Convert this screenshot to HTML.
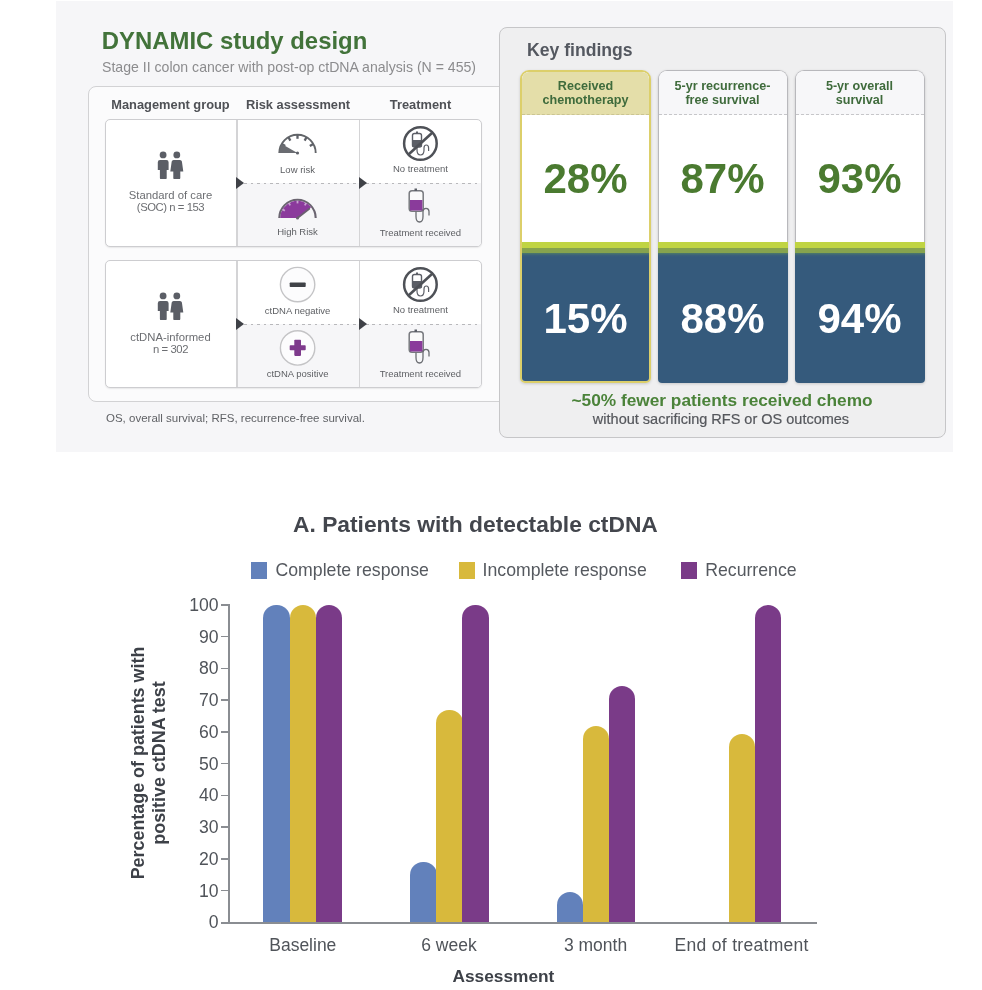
<!DOCTYPE html>
<html><head><meta charset="utf-8">
<style>
*{margin:0;padding:0;box-sizing:border-box}
html,body{width:982px;height:990px;background:#fff;overflow:hidden}
body{position:relative;font-family:"Liberation Sans",sans-serif}
#wrap{position:absolute;left:0;top:0;width:982px;height:990px;background:#fff;filter:blur(0.6px)}
.a{position:absolute}
.t{position:absolute;white-space:nowrap;line-height:1}
.b{font-weight:bold}
.c{transform:translateX(-50%)}
#panel{left:56px;top:1px;width:897px;height:451px;background:#f6f6f8}
#outer{left:88px;top:86px;width:430px;height:316px;border:1.5px solid #d2d2d4;border-radius:8px;background:#fbfbfc}
.inner{left:105px;width:377px;height:128px;border:1.5px solid #cdcdd0;border-radius:5px;background:#fff;overflow:hidden;box-shadow:0 1px 1.5px rgba(0,0,0,.08)}
.inner .lo{position:absolute;left:131px;top:63px;right:0;bottom:0;background:#f6f6f8}
.inner .d1{position:absolute;left:130px;top:0;bottom:0;width:1.6px;background:#d4d4d6}
.inner .d2{position:absolute;left:252.5px;top:0;bottom:0;width:1.6px;background:#d4d4d6}
.inner .dash{position:absolute;left:132px;right:0;top:62.5px;height:1px;background:repeating-linear-gradient(90deg,#b8b8bb 0 2.6px,transparent 2.6px 6.4px)}
.tri{width:0;height:0;border-top:6px solid transparent;border-bottom:6px solid transparent;border-left:8px solid #3f4147}
.sm{font-size:9.5px;color:#5d5f63}
.hd{font-size:12.85px;color:#4f5156}
#kf{left:499px;top:27px;width:447px;height:411px;border:1.5px solid #c6c6c8;border-radius:8px;background:#efeff0}
.card{position:absolute;top:70px;height:313px;border-radius:9px 9px 4px 4px;box-shadow:0 1px 3px rgba(0,0,0,.16)}
.card .top{position:absolute;left:0;right:0;top:0;height:171.7px;border:1.5px solid #b8b8bc;border-bottom:0;border-radius:9px 9px 0 0;background:#fff;overflow:hidden}
.card .h{position:absolute;left:0;right:0;top:0;height:43.9px;background:#f7f7f9;border-bottom:1px dashed #c6c6c9}
.card .band{position:absolute;left:0;right:0;top:171.7px;bottom:0;border-radius:0 0 4px 4px;background:linear-gradient(#c0d443 0,#c0d443 6.3px,#86a34e 6.3px,#86a34e 10.9px,#4d7a6a 10.9px,#3a5f7a 13.5px,#355a7c 15px)}
.card.y{border:2px solid #dccf6a;overflow:hidden;border-radius:9px 9px 5px 5px}
.card.y .top{border:0;height:169.7px;border-radius:0}
.card.y .h{height:43.4px;background:#e4dea9;border-bottom-color:#cbc492}
.card.y .band{top:169.7px;border-radius:0}
.ht{text-align:center;font-weight:bold;font-size:12.6px;line-height:14px;color:#3f6b3c;width:130px}
.n1{text-align:center;font-weight:bold;font-size:42px;line-height:41px;color:#4a7a30;width:130px}
.n2{text-align:center;font-weight:bold;font-size:42px;line-height:41px;color:#fff;width:130px}
.lg{font-size:17.7px;color:#55595f}
.yl{font-size:17.6px;color:#50545a;text-align:right;width:40px}
.xl{font-size:17.5px;color:#50545a}
.bar{width:26.6px;border-radius:13px 13px 0 0}
.bl{background:#6281bb}.ye{background:#d8b93c}.pu{background:#7a3b88}
</style></head><body>
<div id="wrap">
<div id="panel" class="a"></div>
<!-- title -->
<div class="t b" style="left:101.8px;top:29px;font-size:23.9px;color:#42733a">DYNAMIC study design</div>
<div class="t" style="left:102px;top:60px;font-size:14.1px;color:#8c8c8e">Stage II colon cancer with post-op ctDNA analysis (N = 455)</div>
<div id="outer" class="a"></div>
<div class="t b hd c" style="left:170.5px;top:98.5px">Management group</div>
<div class="t b hd c" style="left:298px;top:98.5px">Risk assessment</div>
<div class="t b hd c" style="left:420.5px;top:98.5px">Treatment</div>

<!-- inner box 1 -->
<div class="a inner" style="top:119px"><div class="lo"></div><div class="d1"></div><div class="d2"></div><div class="dash"></div></div>
<!-- inner box 2 -->
<div class="a inner" style="top:260px"><div class="lo"></div><div class="d1"></div><div class="d2"></div><div class="dash"></div></div>

<div class="a tri" style="left:236px;top:176.6px"></div>
<div class="a tri" style="left:359px;top:176.6px"></div>
<div class="a tri" style="left:236px;top:317.6px"></div>
<div class="a tri" style="left:359px;top:317.6px"></div>

<!-- people icons -->
<svg class="a" style="left:150px;top:145px" width="40" height="40" viewBox="150 145 40 40">
 <g fill="#5b5e66">
  <circle cx="163.1" cy="154.9" r="3.4"/>
  <path d="M160 160H166.4Q168.6 160 168.6 162.2V170H166.7V177.9Q166.7 179.1 165.5 179.1H161.1Q159.9 179.1 159.9 177.9V170H157.8V162.2Q157.8 160 160 160Z"/>
  <circle cx="176.8" cy="154.9" r="3.4"/>
  <path d="M173.6 160H180Q181.6 160 181.9 161.5L183.3 171.5H180.3V177.9Q180.3 179.1 179.1 179.1H174.5Q173.3 179.1 173.3 177.9V171.5H170.3L171.7 161.5Q172 160 173.6 160Z"/>
 </g>
</svg>
<svg class="a" style="left:150px;top:286px" width="40" height="40" viewBox="150 145 40 40">
 <g fill="#5b5e66">
  <circle cx="163.1" cy="154.9" r="3.4"/>
  <path d="M160 160H166.4Q168.6 160 168.6 162.2V170H166.7V177.9Q166.7 179.1 165.5 179.1H161.1Q159.9 179.1 159.9 177.9V170H157.8V162.2Q157.8 160 160 160Z"/>
  <circle cx="176.8" cy="154.9" r="3.4"/>
  <path d="M173.6 160H180Q181.6 160 181.9 161.5L183.3 171.5H180.3V177.9Q180.3 179.1 179.1 179.1H174.5Q173.3 179.1 173.3 177.9V171.5H170.3L171.7 161.5Q172 160 173.6 160Z"/>
 </g>
</svg>
<div class="t c" style="left:170.5px;top:188.5px;font-size:11.3px;line-height:12px;color:#6c6e72;text-align:center">Standard of care<br><span style="letter-spacing:-0.45px">(SOC) n = 153</span></div>
<div class="t c" style="left:170.5px;top:330.5px;font-size:11.3px;line-height:12.7px;color:#6c6e72;text-align:center">ctDNA-informed<br><span style="letter-spacing:-0.4px">n = 302</span></div>

<!-- gauges -->
<svg class="a" style="left:275px;top:130px" width="45" height="26" viewBox="0 0 45 26">
 <path d="M4.30 23.00A18.2 18.2 0 0 1 40.70 23.00" fill="none" stroke="#626569" stroke-width="1.9"/>
 <g stroke="#5e6168" stroke-width="2.3"><line x1="34.80" y1="15.90" x2="38.26" y2="13.90"/><line x1="29.60" y1="10.70" x2="31.60" y2="7.24"/><line x1="22.50" y1="8.80" x2="22.50" y2="4.80"/><line x1="15.40" y1="10.70" x2="13.40" y2="7.24"/><line x1="10.20" y1="15.90" x2="6.74" y2="13.90"/></g>
 <path d="M22.50 23.00L6.74 13.90A18.2 18.2 0 0 0 4.30 23.00Z" fill="#6a6c71"/>
 <circle cx="22.5" cy="23" r="1.6" fill="#5e6168"/>
</svg>
<div class="t sm c" style="left:297.5px;top:165px">Low risk</div>
<svg class="a" style="left:275px;top:195px" width="45" height="26" viewBox="0 0 45 26">
 <path d="M4.30 23.00A18.2 18.2 0 0 1 40.70 23.00" fill="none" stroke="#6a6470" stroke-width="2.1"/>
 <path d="M22.50 23.00L36.13 12.35A17.3 17.3 0 0 0 5.20 23.00Z" fill="#8b3a9c"/>
 <g stroke="#c9a3d2" stroke-width="1.8"><line x1="29.80" y1="10.36" x2="31.10" y2="8.10"/><line x1="22.50" y1="8.40" x2="22.50" y2="5.80"/><line x1="15.20" y1="10.36" x2="13.90" y2="8.10"/><line x1="9.86" y1="15.70" x2="7.60" y2="14.40"/></g>
 <line x1="22.5" y1="23" x2="34.32" y2="13.77" stroke="#6a5f70" stroke-width="1.8" stroke-linecap="round"/>
 <circle cx="22.5" cy="23" r="1.5" fill="#6a5f70"/>
</svg>
<div class="t sm c" style="left:297.5px;top:227.3px">High Risk</div>

<!-- no treatment icons -->
<svg class="a" style="left:400px;top:124px" width="41" height="40" viewBox="0 0 41 40">
 <rect x="12.5" y="9.5" width="9" height="13.5" rx="2" fill="none" stroke="#5b5e66" stroke-width="1.4"/>
 <rect x="12.5" y="16" width="9" height="7" fill="#5b5e66"/>
 <rect x="16" y="7.5" width="2" height="2.5" fill="#5b5e66"/>
 <path d="M17 23v3q0 5 3.5 5t3.5 -5v-2q0 -3 2.3 -3t2.3 3v3" fill="none" stroke="#5b5e66" stroke-width="1.2"/>
 <circle cx="20.4" cy="19.5" r="16.3" fill="none" stroke="#4e5157" stroke-width="2.5"/>
 <line x1="32.5" y1="8.5" x2="8.5" y2="30.5" stroke="#4e5157" stroke-width="2.6"/>
</svg>
<div class="t sm c" style="left:420.4px;top:164.2px">No treatment</div>
<svg class="a" style="left:400px;top:186px" width="41" height="40" viewBox="0 0 41 40">
 <rect x="9.2" y="4.8" width="14" height="20.5" rx="2.8" fill="#fafafa" stroke="#77797e" stroke-width="1.5"/>
 <rect x="10" y="14" width="12.4" height="10.5" fill="#8a3b9b"/>
 <rect x="14.5" y="2.5" width="2.5" height="2.5" fill="#5b5e66"/>
 <path d="M16 25.5v5q0 5.5 3.5 5.5t3.5 -5.5v-5q0 -3.2 3 -3.2t3 3.2v4" fill="none" stroke="#6b6d72" stroke-width="1.3"/>
</svg>
<div class="t sm c" style="left:420.4px;top:227.6px">Treatment received</div>

<!-- second group icons -->
<svg class="a" style="left:278px;top:265px" width="40" height="40" viewBox="0 0 40 40">
 <circle cx="19.6" cy="19.6" r="17.2" fill="#fcfcfd" stroke="#c4c4c6" stroke-width="1.4"/>
 <rect x="11.7" y="17.4" width="16" height="4.7" rx=".8" fill="#3f4247"/>
</svg>
<div class="t sm c" style="left:297.6px;top:305.8px">ctDNA negative</div>
<svg class="a" style="left:278px;top:328px" width="40" height="40" viewBox="0 0 40 40">
 <circle cx="19.6" cy="19.9" r="17.2" fill="#fcfcfd" stroke="#c4c4c6" stroke-width="1.4"/>
 <rect x="11.7" y="17.3" width="16" height="5" rx=".8" fill="#7e3a8c"/>
 <rect x="16.3" y="11.7" width="6.7" height="16.2" rx=".8" fill="#7e3a8c"/>
</svg>
<div class="t sm c" style="left:297.6px;top:368.8px">ctDNA positive</div>
<svg class="a" style="left:400px;top:265px" width="41" height="40" viewBox="0 0 41 40">
 <rect x="12.5" y="9.5" width="9" height="13.5" rx="2" fill="none" stroke="#5b5e66" stroke-width="1.4"/>
 <rect x="12.5" y="16" width="9" height="7" fill="#5b5e66"/>
 <rect x="16" y="7.5" width="2" height="2.5" fill="#5b5e66"/>
 <path d="M17 23v3q0 5 3.5 5t3.5 -5v-2q0 -3 2.3 -3t2.3 3v3" fill="none" stroke="#5b5e66" stroke-width="1.2"/>
 <circle cx="20.4" cy="19.5" r="16.3" fill="none" stroke="#4e5157" stroke-width="2.5"/>
 <line x1="32.5" y1="8.5" x2="8.5" y2="30.5" stroke="#4e5157" stroke-width="2.6"/>
</svg>
<div class="t sm c" style="left:420.4px;top:305.3px">No treatment</div>
<svg class="a" style="left:400px;top:327px" width="41" height="40" viewBox="0 0 41 40">
 <rect x="9.2" y="4.8" width="14" height="20.5" rx="2.8" fill="#fafafa" stroke="#77797e" stroke-width="1.5"/>
 <rect x="10" y="14" width="12.4" height="10.5" fill="#8a3b9b"/>
 <rect x="14.5" y="2.5" width="2.5" height="2.5" fill="#5b5e66"/>
 <path d="M16 25.5v5q0 5.5 3.5 5.5t3.5 -5.5v-5q0 -3.2 3 -3.2t3 3.2v4" fill="none" stroke="#6b6d72" stroke-width="1.3"/>
</svg>
<div class="t sm c" style="left:420.4px;top:368.8px">Treatment received</div>

<div class="t" style="left:106px;top:412.5px;font-size:11.5px;color:#606266">OS, overall survival; RFS, recurrence-free survival.</div>

<!-- key findings -->
<div id="kf" class="a"></div>
<div class="t b" style="left:527px;top:42px;font-size:17.6px;color:#545860">Key findings</div>

<div class="card y" style="left:520px;width:131px"><div class="top"><div class="h"></div></div><div class="band"></div></div>
<div class="card " style="left:657.5px;width:130px"><div class="top"><div class="h"></div></div><div class="band"></div></div>
<div class="card " style="left:794.5px;width:130px"><div class="top"><div class="h"></div></div><div class="band"></div></div>
<div class="t ht" style="left:520.5px;top:79.1px">Received<br>chemotherapy</div>
<div class="t n1" style="left:520.5px;top:157.7px">28%</div>
<div class="t n2" style="left:520.5px;top:298.2px">15%</div>
<div class="t ht" style="left:657.5px;top:79.1px">5-yr recurrence-<br>free survival</div>
<div class="t n1" style="left:657.5px;top:157.7px">87%</div>
<div class="t n2" style="left:657.5px;top:298.2px">88%</div>
<div class="t ht" style="left:794.5px;top:79.1px">5-yr overall<br>survival</div>
<div class="t n1" style="left:794.5px;top:157.7px">93%</div>
<div class="t n2" style="left:794.5px;top:298.2px">94%</div>
<div class="t b c" style="left:722px;top:392px;font-size:17.3px;color:#4b833a">~50% fewer patients received chemo</div>
<div class="t c" style="left:721px;top:412px;font-size:14.5px;color:#55575c;-webkit-text-stroke:0.2px #55575c">without sacrificing RFS or OS outcomes</div>

<!-- chart -->
<div class="t b" style="left:293px;top:512.6px;font-size:22.8px;color:#43464d">A. Patients with detectable ctDNA</div>
<div class="a bl" style="left:250.5px;top:562px;width:16.6px;height:17.4px"></div>
<div class="t lg" style="left:275.5px;top:561.5px">Complete response</div>
<div class="a ye" style="left:458.8px;top:562px;width:16.6px;height:17.4px"></div>
<div class="t lg" style="left:482.6px;top:561.5px">Incomplete response</div>
<div class="a pu" style="left:680.6px;top:562px;width:16.6px;height:17.4px"></div>
<div class="t lg" style="left:705.2px;top:561.5px">Recurrence</div>

<div class="t b" style="left:148.5px;top:763px;font-size:17.9px;line-height:20.7px;color:#3d4148;text-align:center;transform:translate(-50%,-50%) rotate(-90deg)">Percentage of patients with<br>positive ctDNA test</div>

<div class="a" style="left:227.9px;top:604px;width:1.7px;height:319px;background:#8a8d92"></div>
<div class="a" style="left:221px;top:921.9px;width:595.7px;height:1.8px;background:#8a8d92"></div>
<div class="a" style="left:221px;top:921.55px;width:7px;height:1.5px;background:#8a8d92"></div>
<div class="t yl" style="left:178.5px;top:914.30px">0</div>
<div class="a" style="left:221px;top:889.82px;width:7px;height:1.5px;background:#8a8d92"></div>
<div class="t yl" style="left:178.5px;top:882.57px">10</div>
<div class="a" style="left:221px;top:858.09px;width:7px;height:1.5px;background:#8a8d92"></div>
<div class="t yl" style="left:178.5px;top:850.84px">20</div>
<div class="a" style="left:221px;top:826.36px;width:7px;height:1.5px;background:#8a8d92"></div>
<div class="t yl" style="left:178.5px;top:819.11px">30</div>
<div class="a" style="left:221px;top:794.63px;width:7px;height:1.5px;background:#8a8d92"></div>
<div class="t yl" style="left:178.5px;top:787.38px">40</div>
<div class="a" style="left:221px;top:762.90px;width:7px;height:1.5px;background:#8a8d92"></div>
<div class="t yl" style="left:178.5px;top:755.65px">50</div>
<div class="a" style="left:221px;top:731.17px;width:7px;height:1.5px;background:#8a8d92"></div>
<div class="t yl" style="left:178.5px;top:723.92px">60</div>
<div class="a" style="left:221px;top:699.44px;width:7px;height:1.5px;background:#8a8d92"></div>
<div class="t yl" style="left:178.5px;top:692.19px">70</div>
<div class="a" style="left:221px;top:667.71px;width:7px;height:1.5px;background:#8a8d92"></div>
<div class="t yl" style="left:178.5px;top:660.46px">80</div>
<div class="a" style="left:221px;top:635.98px;width:7px;height:1.5px;background:#8a8d92"></div>
<div class="t yl" style="left:178.5px;top:628.73px">90</div>
<div class="a" style="left:221px;top:604.25px;width:7px;height:1.5px;background:#8a8d92"></div>
<div class="t yl" style="left:178.5px;top:597.00px">100</div>
<div class="a bar bl" style="left:263.40px;top:605.00px;height:317.30px"></div>
<div class="a bar ye" style="left:289.50px;top:605.00px;height:317.30px"></div>
<div class="a bar pu" style="left:315.60px;top:605.00px;height:317.30px"></div>
<div class="a bar bl" style="left:410.20px;top:862.01px;height:60.29px"></div>
<div class="a bar ye" style="left:436.30px;top:709.71px;height:212.59px"></div>
<div class="a bar pu" style="left:462.40px;top:605.00px;height:317.30px"></div>
<div class="a bar bl" style="left:556.70px;top:892.16px;height:30.14px"></div>
<div class="a bar ye" style="left:582.80px;top:725.57px;height:196.73px"></div>
<div class="a bar pu" style="left:608.90px;top:685.59px;height:236.71px"></div>
<div class="a bar ye" style="left:728.50px;top:733.51px;height:188.79px"></div>
<div class="a bar pu" style="left:754.60px;top:605.00px;height:317.30px"></div>
<div class="t xl c" style="left:302.8px;top:936.5px">Baseline</div>
<div class="t xl c" style="left:449px;top:936.5px">6 week</div>
<div class="t xl c" style="left:595.5px;top:936.5px">3 month</div>
<div class="t xl c" style="left:741.7px;top:936.5px;letter-spacing:0.3px">End of treatment</div>
<div class="t b c" style="left:503.4px;top:967.5px;font-size:17.3px;color:#3d4148">Assessment</div>
</div>
</body></html>
